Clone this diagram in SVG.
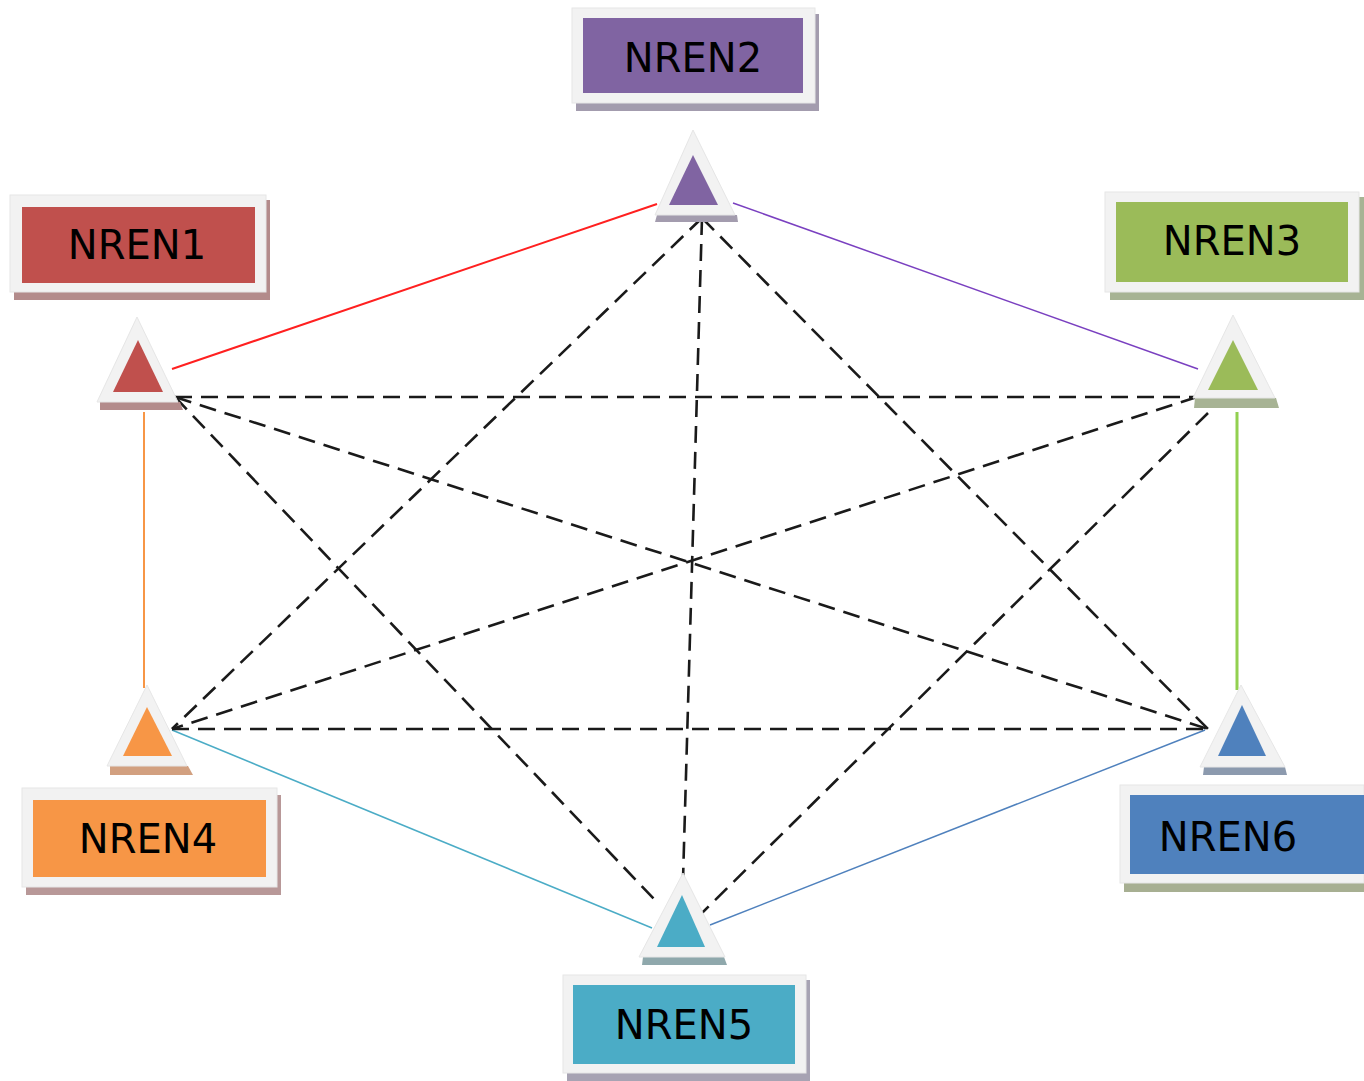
<svg xmlns="http://www.w3.org/2000/svg" width="1364" height="1081" viewBox="0 0 1364 1081">
<style>
.frame{fill:#F2F2F2;stroke:#E6E6E6;stroke-width:1}
.lbl{font-family:"DejaVu Sans",Verdana,sans-serif;font-size:40px;fill:#000;text-anchor:middle}
.dash{stroke:#1A1A1A;stroke-width:2.6;stroke-dasharray:17 9;fill:none}
.solid{fill:none}
</style>
<rect width="1364" height="1081" fill="#FFFFFF"/>
<g id="connectors">
<line class="solid" x1="172" y1="369" x2="657" y2="204" stroke="#FF2020" stroke-width="2"/>
<line class="solid" x1="733" y1="203" x2="1198" y2="369" stroke="#7A40C0" stroke-width="1.5"/>
<line class="solid" x1="144" y1="412" x2="144" y2="688" stroke="#F79646" stroke-width="2"/>
<line class="solid" x1="1237" y1="412" x2="1237" y2="690" stroke="#92D050" stroke-width="3"/>
<line class="solid" x1="172" y1="730" x2="652" y2="928" stroke="#4BACC6" stroke-width="1.5"/>
<line class="solid" x1="710" y1="925" x2="1205" y2="730" stroke="#4F81BD" stroke-width="1.5"/>
<line class="dash" x1="175" y1="397" x2="1197" y2="397"/>
<line class="dash" x1="175" y1="397" x2="1208" y2="729"/>
<line class="dash" x1="175" y1="397" x2="655" y2="900"/>
<line class="dash" x1="702" y1="218" x2="172" y2="729"/>
<line class="dash" x1="702" y1="218" x2="683" y2="880"/>
<line class="dash" x1="702" y1="218" x2="1208" y2="729"/>
<line class="dash" x1="1197" y1="397" x2="172" y2="729"/>
<line class="dash" x1="1208" y1="413" x2="700" y2="915"/>
<line class="dash" x1="172" y1="729" x2="1208" y2="729"/>
</g>
<g id="NREN1">
<rect x="14" y="200" width="256" height="100" fill="#B38B8B"/>
<rect class="frame" x="10" y="195" width="256" height="97"/>
<rect x="22" y="207" width="233" height="76" fill="#C0504D"/>
<text class="lbl" x="137" y="259">NREN1</text>
<polygon points="100,402 180,402 183,410 100,410" fill="#B38B8B"/>
<polygon points="137,317 97,402 178,402" class="frame"/>
<polygon points="138,340 113,392 163,392" fill="#C0504D"/>
</g>
<g id="NREN2">
<rect x="576" y="14" width="243" height="97" fill="#A39CAE"/>
<rect class="frame" x="572" y="8" width="243" height="95"/>
<rect x="583" y="18" width="220" height="75" fill="#8064A2"/>
<text class="lbl" x="693" y="72">NREN2</text>
<polygon points="657,215 737,215 738,222 655,222" fill="#A39CAE"/>
<polygon points="693,130 655,215 735,215" class="frame"/>
<polygon points="693,155 669,205 718,205" fill="#8064A2"/>
</g>
<g id="NREN3">
<rect x="1110" y="197" width="254" height="103" fill="#A7B394"/>
<rect class="frame" x="1105" y="192" width="254" height="100"/>
<rect x="1116" y="202" width="232" height="80" fill="#9BBB59"/>
<text class="lbl" x="1232" y="255">NREN3</text>
<polygon points="1195,398 1276,398 1279,408 1194,408" fill="#A7B394"/>
<polygon points="1233,315 1193,398 1275,398" class="frame"/>
<polygon points="1233,340 1208,390 1258,390" fill="#9BBB59"/>
</g>
<g id="NREN4">
<rect x="26" y="795" width="255" height="100" fill="#B89898"/>
<rect class="frame" x="22" y="788" width="255" height="99"/>
<rect x="33" y="800" width="233" height="77" fill="#F79646"/>
<text class="lbl" x="148" y="853">NREN4</text>
<polygon points="110,766 188,766 193,775 110,775" fill="#D2A080"/>
<polygon points="147,685 107,766 187,766" class="frame"/>
<polygon points="147,707 123,756 172,756" fill="#F79646"/>
</g>
<g id="NREN5">
<rect x="567" y="980" width="243" height="101" fill="#A7A3B3"/>
<rect class="frame" x="563" y="975" width="243" height="98"/>
<rect x="573" y="985" width="222" height="79" fill="#4BACC6"/>
<text class="lbl" x="684" y="1039">NREN5</text>
<polygon points="643,957 724,957 727,965 642,965" fill="#8FA8AC"/>
<polygon points="683,873 639,957 725,957" class="frame"/>
<polygon points="682,895 657,947 705,947" fill="#4BACC6"/>
</g>
<g id="NREN6">
<rect x="1124" y="790" width="240" height="102" fill="#A7AF92"/>
<rect class="frame" x="1120" y="785" width="244" height="98"/>
<rect x="1130" y="795" width="234" height="79" fill="#4F81BD"/>
<text class="lbl" x="1228" y="851">NREN6</text>
<polygon points="1204,767 1285,767 1287,775 1203,775" fill="#8C9AAE"/>
<polygon points="1241,685 1200,767 1285,767" class="frame"/>
<polygon points="1242,705 1218,756 1266,756" fill="#4F81BD"/>
</g>
</svg>
